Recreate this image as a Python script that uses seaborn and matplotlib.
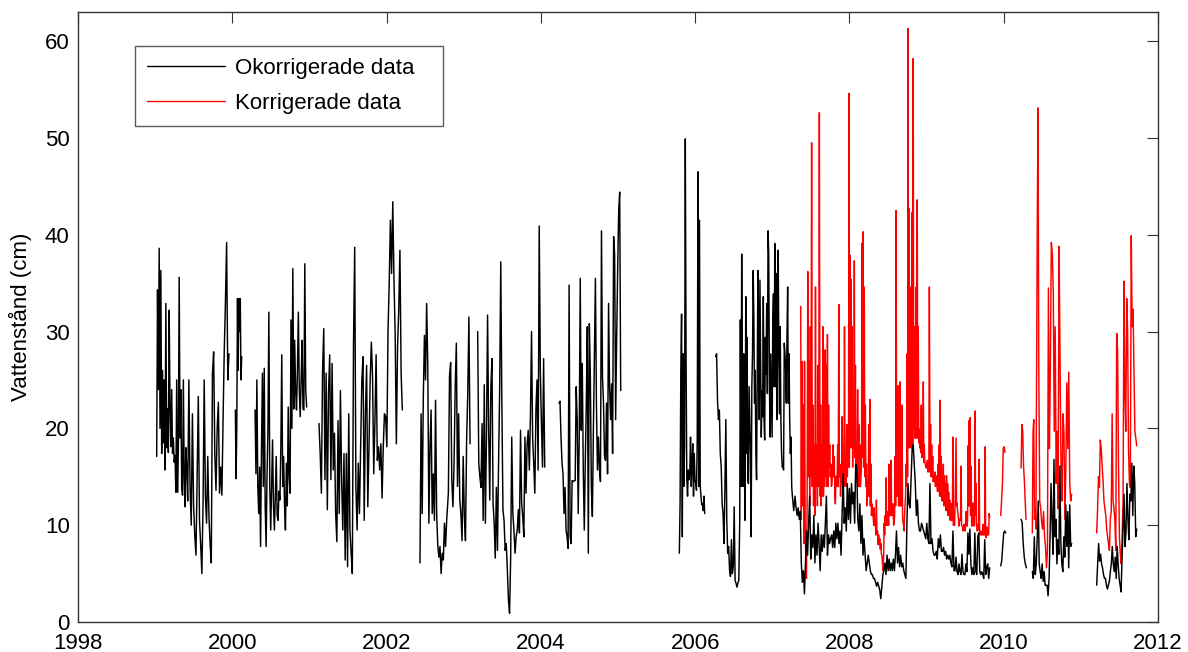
import numpy as np
import pandas as pd
import matplotlib
matplotlib.use("Agg")
import matplotlib.pyplot as plt
import seaborn as sns
from matplotlib.lines import Line2D

# ---------------- data (decimal years, cm) ----------------
# Okorrigerade data (uncorrected) - continuous runs
okorr_1999a = [17.1, 34.3, 24.0, 38.6, 20.0, 36.3, 17.4, 26.0, 18.5, 25.0, 15.7, 32.9, 18.0, 22.0,
               17.5, 32.2, 22.0, 18.1, 24.0, 17.4, 19.0, 16.5, 17.2, 13.4, 25.0, 13.4, 18.0, 35.6,
               19.0, 24.0, 14.0, 13.1, 25.0, 15.0, 11.9, 18.0, 16.0]
okorr_1999b = [12.5, 25.0, 14.0, 10.0, 21.5, 12.0, 9.0, 6.9, 15.0, 23.3, 10.5, 8.0, 5.0, 12.0, 25.0,
               13.0, 10.2, 17.1, 11.0, 8.0, 6.1, 25.7, 27.9, 17.4, 13.6, 20.0, 22.7, 13.3, 16.0,
               13.1, 21.0, 28.0, 33.0, 39.2, 25.0, 27.7]
okorr_2000a = [21.9, 14.8, 20.0, 33.4, 26.0, 33.4, 30.0, 33.4, 25.0, 27.4]
okorr_2000b = [21.9, 15.3, 25.0, 14.0, 11.2, 16.0, 7.8, 18.0, 25.7, 14.0, 26.2, 12.0, 7.8, 15.0, 20.0,
               32.0, 14.0, 9.5, 14.0, 18.8, 12.0, 9.5, 13.0, 17.1, 11.0, 10.5, 13.5, 12.6, 18.0, 27.6,
               14.0, 17.1, 12.0, 9.5, 16.4, 12.0, 22.2, 15.0, 13.3, 31.2, 20.0, 36.5, 22.0, 29.1,
               24.0, 21.9, 26.0, 32.0, 24.0, 21.2, 25.0, 29.1, 22.0, 21.9, 37.0, 24.0, 22.2]
okorr_2001 = [20.5, 17.4, 13.3, 26.0, 30.3, 14.7, 25.7, 11.6, 23.6, 27.6, 14.7, 26.7, 15.7, 19.5, 11.2,
              8.3, 20.8, 11.2, 23.9, 14.7, 9.5, 17.4, 6.4, 17.4, 5.7, 21.5, 9.5, 7.1, 5.0, 28.8, 38.7,
              14.0, 9.5, 16.4, 11.2, 18.1, 25.0, 27.4, 10.5, 21.5, 26.5, 11.9, 18.1, 25.0, 28.9, 25.3,
              15.3, 20.8, 27.6, 16.7, 18.1, 15.7, 18.4, 12.8, 18.1, 21.5, 21.2, 18.1, 30.1, 35.0,
              41.5, 36.0, 43.4, 35.3, 29.8, 18.4, 28.4, 32.2, 38.4, 25.7, 21.9]
okorr_2002a = [6.1, 21.5, 11.2, 23.2, 29.6, 25.0, 32.9, 26.7, 10.2, 18.1, 21.9, 11.2, 15.3, 10.5, 22.9,
               11.2, 7.9, 6.7, 7.8, 5.0, 7.1, 6.4, 10.2, 7.8, 10.5]
okorr_2002b = [13.3, 25.4, 26.8, 14.7, 11.9, 16.4, 24.3, 28.8, 14.0, 21.5, 12.6, 11.2, 8.4, 17.1, 10.9,
               8.4, 18.8, 23.6, 31.5, 18.4]
okorr_2003 = [30.0, 16.4, 15.0, 13.9, 20.5, 10.5, 24.5, 10.2, 19.1, 31.7, 19.8, 12.6, 24.3, 27.2, 12.3,
              10.2, 6.6, 13.9, 7.4, 16.4, 23.9, 37.2, 22.6, 11.6, 10.5, 7.4, 8.1, 5.4, 2.3, 0.9, 6.4,
              19.1, 11.2, 9.5, 7.1, 8.8, 9.5, 11.6, 9.2, 19.8, 12.3, 10.9, 8.8, 19.1, 13.3, 18.4, 19.8,
              15.7, 21.2, 30.0, 19.1, 16.4, 13.3, 21.9, 25.0, 15.7, 40.9, 26.0, 20.5, 16.0, 27.2, 16.0]
okorr_2004 = [22.6, 22.8, 19.1, 16.4, 15.3, 11.2, 13.9, 9.5, 8.8, 7.6, 34.8, 8.8, 8.1, 14.6, 14.5, 14.6,
              14.6, 24.3, 20.9, 11.2, 19.1, 35.5, 19.8, 26.7, 15.7, 9.5, 16.7, 22.6, 30.5, 7.1, 30.8,
              25.3, 13.9, 10.9, 19.8, 27.4, 35.5, 22.6, 15.7, 19.1, 15.7, 14.5, 40.4, 25.3, 22.6, 17.1,
              16.7, 22.6, 15.3, 32.9, 24.3, 20.9, 24.6, 17.4, 39.8, 38.0, 20.9, 29.4, 36.3, 42.5, 44.4,
              23.9]
okorr_2005 = [7.1, 12.2, 26.0, 31.8, 8.8, 27.7, 14.0, 18.1, 49.9, 27.7, 14.7, 13.0, 15.7, 14.7, 15.3,
              19.1, 14.0, 16.4, 18.4, 13.0, 17.4, 14.7, 14.3, 13.6, 19.1, 46.5, 14.0, 41.5, 14.0, 13.0,
              12.1, 12.2, 11.5, 13.0, 11.2]
okorr_2006a = [27.4, 27.7, 22.9, 20.9, 21.9, 17.4, 16.0, 12.2, 11.2, 8.1, 14.0, 20.9, 10.5, 7.1, 7.8,
               5.4, 4.7, 8.5, 5.0, 5.7, 11.9, 4.3, 4.0, 3.6, 4.0, 4.3, 10.5]
okorr_2006b = [31.2, 14.0, 38.0, 20.9, 14.0, 27.7, 15.7, 10.5, 33.6, 17.4, 29.4, 14.7, 14.3, 24.3, 20.9,
               17.4, 8.8, 24.3, 27.7, 36.3, 31.2, 22.6, 26.0, 17.4, 14.7, 26.0, 36.3, 31.2, 20.9, 35.3,
               27.7, 19.1, 23.9, 21.2, 33.6, 20.9, 18.8, 29.4, 25.6, 32.9, 23.6, 40.4, 38.0, 25.0, 19.1,
               27.7, 23.2, 19.1, 31.2, 33.9, 24.3, 39.1, 24.3, 36.0, 20.9, 27.7, 38.4, 27.7, 21.5, 30.5,
               20.9, 17.4, 16.0, 16.0, 15.7, 28.8, 27.7, 26.3, 22.6, 29.4, 34.6, 22.6, 27.7, 20.9, 17.4,
               19.1, 14.0, 13.0, 12.2, 11.5]
okorr_2007 = [13.0, 11.8, 11.0, 11.8, 10.6, 11.4, 6.1, 4.1, 5.3, 2.9, 6.1, 9.4, 6.9, 10.2, 13.0, 6.5,
              9.0, 7.7, 11.0, 6.1, 9.0, 6.9, 10.2, 8.1, 5.3, 9.0, 7.3, 9.0, 7.7, 10.2, 13.0, 6.9, 9.0,
              8.1, 8.6, 9.0, 7.7, 9.4, 7.7, 10.2, 8.6, 10.2, 8.1, 9.4, 6.9, 11.0, 15.3, 10.2, 11.8, 9.4,
              14.3, 10.6, 13.8, 10.2, 14.3, 12.2, 13.4, 10.2, 16.3, 15.9, 10.6, 9.4, 12.2, 8.1, 11.0,
              6.9, 8.6, 6.9, 5.3, 6.1, 6.9, 6.1, 5.3, 4.9, 4.9, 4.5, 4.5, 4.1, 3.7, 4.1, 3.7, 3.3, 2.4,
              3.7, 4.9, 5.3, 6.1, 4.9, 6.9, 5.3, 6.5, 5.3, 6.1, 5.3, 6.5, 5.3, 6.9, 9.4, 6.1, 7.7, 5.7,
              6.9, 5.7, 6.1, 5.3, 4.9, 4.5, 10.2, 14.3, 12.2, 11.8, 14.7, 17.9, 18.3, 16.3, 14.3, 11.0,
              12.6, 10.2, 9.4, 9.4, 10.2, 9.8, 9.4, 9.0, 8.6, 10.2, 8.6, 8.1, 14.3, 8.1, 8.6, 7.3, 6.9,
              6.9, 7.3, 6.5, 8.6, 7.7, 9.0, 7.3, 7.3, 7.7, 6.9, 7.3, 6.5, 6.9, 6.5, 6.9, 6.1, 5.7, 9.4,
              5.3, 5.3]
okorr_2009 = [6.7, 5.2, 4.9, 6.0, 5.2, 4.9, 7.0, 5.2, 4.9, 4.9, 6.0, 5.2, 9.2, 7.0, 9.6, 6.0, 4.9, 5.6,
              4.9, 9.2, 5.2, 4.9, 8.8, 9.2, 5.2, 4.9, 5.2, 4.9, 4.5, 8.5, 4.9, 5.6, 6.0, 4.5, 5.6]
okorr_2010a = [5.8, 6.3, 7.8, 9.2, 9.4, 9.2]
okorr_2010b = [10.6, 10.3, 8.1, 6.7, 6.0, 5.6]
okorr_2010c = [5.2, 4.5, 8.8, 4.9, 6.0, 8.8, 12.5, 6.0, 5.2, 4.5, 6.0, 4.2, 5.2, 3.8, 3.8, 3.8, 2.7, 4.5,
               8.8, 14.3, 10.6, 7.0, 16.8, 8.8, 10.6, 6.0, 8.5, 7.0, 16.1, 8.1, 6.0, 5.2, 8.8, 6.7, 12.1,
               7.8, 11.4, 5.6, 12.1, 7.8, 8.1]
okorr_2011 = [3.8, 6.0, 8.1, 6.3, 7.0, 6.0, 5.6, 4.9, 4.5, 4.5, 3.8, 3.4, 3.8, 4.2, 5.2, 6.0, 7.8, 6.0,
              5.2, 6.7, 4.5, 7.8, 6.0, 4.5, 3.8, 3.1, 6.7, 9.6, 13.2, 7.8, 9.2, 14.3, 10.6, 8.5, 13.2,
              12.5, 16.4, 11.0, 16.1, 14.3, 8.8, 9.6]

# Korrigerade data (corrected)
korr_2007a = [32.6, 10.6, 26.9, 12.0, 22.4, 8.1, 26.9, 10.2, 6.0, 4.5, 12.0, 36.2, 15.0, 26.9, 12.0,
              30.5, 15.0, 49.5, 14.0, 22.4, 12.0, 18.3, 11.0, 34.6, 14.0, 18.3, 12.0, 26.5, 14.0, 52.6]
korr_2007b = [13.0, 22.4, 12.0, 18.3, 13.0, 30.5, 13.0, 20.4, 14.0, 28.1, 15.0, 26.5, 14.0, 29.7, 14.0,
              22.4, 16.0, 18.3, 15.0, 16.3, 14.0, 14.3, 16.0, 18.3, 15.0, 17.1, 13.0, 12.2, 15.0, 15.1,
              14.0, 18.3, 14.0, 32.8, 15.0, 16.3, 13.0, 14.3, 15.0, 21.2, 14.0, 16.3, 14.0, 30.5, 15.0,
              16.3, 14.0, 20.4, 15.0, 18.3, 16.0, 54.6]
korr_2008a = [16.0, 37.9, 18.0, 35.4, 18.0, 30.5, 16.0, 22.4, 18.0, 37.3, 17.0, 26.5, 15.0, 18.3, 15.0,
              24.0, 14.0, 20.4, 14.0, 18.3, 14.0, 15.1, 16.0, 39.1, 17.0, 40.3, 16.0, 34.6, 15.0, 22.4,
              14.0, 16.3, 12.0, 14.3, 13.0, 20.4, 13.0, 23.0, 12.0, 16.3, 11.0, 12.2, 11.0, 11.0, 10.0,
              11.8, 10.0, 10.2, 9.0, 12.6, 9.0, 9.4, 8.0, 9.0, 8.0, 8.6, 7.5, 8.1, 7.0, 6.9, 6.0, 5.3]
korr_2008b = [7.0, 10.2, 9.0, 11.0, 10.0, 14.9, 10.0, 10.2, 10.0, 11.4, 10.0, 16.3, 11.0, 11.0, 11.0,
              16.7, 11.0, 12.2, 11.0, 12.2, 10.0, 10.2, 11.0, 17.1, 12.0, 42.5, 13.0, 18.3, 13.0, 24.4,
              12.0, 13.4, 12.0, 24.8, 12.0, 13.0, 12.0, 22.4, 11.0, 10.2, 10.0, 9.4, 11.0, 12.2, 13.0,
              16.3, 14.0, 27.7, 15.0, 61.3]
korr_2008c = [18.0, 42.7, 18.0, 34.6, 18.0, 22.4, 18.0, 42.3, 18.0, 58.2, 20.0, 30.5, 19.0, 22.4, 19.0,
              34.6, 19.0, 43.6, 19.0, 30.5, 18.5, 19.9, 18.0, 18.3, 17.5, 22.4, 17.0, 17.1, 17.0, 24.8,
              16.5, 18.3, 16.5, 16.3, 16.0, 15.9, 16.0, 16.7, 15.5, 16.3, 15.5, 34.6]
korr_2009a = [15.5, 20.4, 15.0, 18.3, 15.0, 17.1, 14.5, 15.1, 14.5, 15.5, 14.0, 14.3, 14.0, 15.1, 13.5,
              16.3, 13.5, 18.3, 13.0, 22.9, 13.0, 17.1, 12.5, 14.3, 12.5, 16.3, 12.0, 15.1, 12.0, 14.3,
              11.5, 15.1, 11.5, 14.3, 11.0, 13.4, 11.0, 12.6, 10.5, 12.2, 10.5, 12.2, 10.5, 19.1, 10.0,
              11.4, 10.0, 11.8]
korr_2009b = [19.0, 12.0, 12.3, 11.5, 11.1, 10.5, 9.9, 10.5, 10.5, 11.0, 16.1, 10.0, 9.9, 9.8, 9.4, 9.5,
              10.1, 9.5, 9.4, 10.0, 11.4, 10.0, 9.9, 10.5, 18.2, 12.0, 20.8, 12.0, 21.1, 11.0, 16.1,
              10.0, 9.9, 10.5, 12.3, 10.0, 9.9, 10.0, 21.8, 11.0, 14.3, 10.0, 9.4, 9.5, 10.1, 9.5, 16.8,
              9.5, 9.0, 9.0, 9.4, 9.0, 9.0, 9.0, 10.1, 9.0, 9.0, 9.0, 18.1, 9.0, 8.7, 9.0, 9.8, 9.0,
              9.0, 9.0, 11.2, 10.8]
korr_2010a = [11.0, 12.5, 14.3, 18.0, 18.1, 17.5]
korr_2010b = [15.9, 20.4, 19.7, 16.1, 14.6, 12.5, 10.6]
korr_2010c = [9.2, 19.7, 20.9, 10.6, 11.7, 9.6, 26.2, 42.1, 53.1]
korr_2010d = [26.9, 12.5, 11.7, 10.3, 9.6, 11.4, 8.8, 7.8, 5.6, 7.4, 34.5, 17.9, 26.2, 39.2, 38.1, 34.1,
              19.7, 30.5, 14.3, 19.7, 11.7, 38.8, 26.9, 16.1, 12.5, 21.5, 19.7, 10.6, 16.1, 24.7, 17.9,
              25.8, 14.3, 12.5, 13.2]
korr_2011 = [9.2, 11.7, 15.0, 13.9, 18.8, 17.9, 16.1, 14.6, 12.5, 11.7, 11.0, 9.6, 8.8, 8.1, 7.4, 10.6,
             11.4, 21.5, 12.5, 11.7, 10.6, 7.4, 29.8, 28.0, 16.1, 8.8, 7.0, 6.0, 8.8, 12.5, 35.2, 23.3,
             19.7, 33.4, 30.1, 17.9, 14.3, 13.9, 39.9, 30.5, 32.3, 25.8, 19.7, 19.0, 18.2]

# runs: each run = list of (start year, end year, values); runs are separated by data gaps
okorr_runs = [
    [(1999.020, 1999.409, okorr_1999a), (1999.422, 1999.957, okorr_1999b)],
    [(2000.040, 2000.122, okorr_2000a)],
    [(2000.295, 2000.964, okorr_2000b)],
    [(2001.124, 2002.204, okorr_2001)],
    [(2002.433, 2002.779, okorr_2002a), (2002.801, 2003.082, okorr_2002b)],
    [(2003.181, 2004.050, okorr_2003)],
    [(2004.235, 2005.035, okorr_2004)],
    [(2005.795, 2006.124, okorr_2005)],
    [(2006.266, 2006.578, okorr_2006a), (2006.586, 2007.278, okorr_2006b),
     (2007.295, 2009.369, okorr_2007), (2009.382, 2009.818, okorr_2009)],
    [(2009.961, 2010.026, okorr_2010a)],
    [(2010.225, 2010.294, okorr_2010b)],
    [(2010.371, 2010.881, okorr_2010c)],
    [(2011.205, 2011.724, okorr_2011)],
]
korr_runs = [
    [(2007.368, 2007.610, korr_2007a), (2007.619, 2007.995, korr_2007b),
     (2007.999, 2008.436, korr_2008a), (2008.444, 2008.760, korr_2008b),
     (2008.768, 2009.036, korr_2008c), (2009.045, 2009.369, korr_2009a),
     (2009.382, 2009.818, korr_2009b)],
    [(2009.961, 2010.017, korr_2010a)],
    [(2010.225, 2010.289, korr_2010b)],
    [(2010.371, 2010.445, korr_2010c), (2010.454, 2010.881, korr_2010d)],
    [(2011.205, 2011.724, korr_2011)],
]

labels = ["Okorrigerade data", "Korrigerade data"]
x_ticks = [1998, 2000, 2002, 2004, 2006, 2008, 2010, 2012]
y_ticks = [0, 10, 20, 30, 40, 50, 60]


def to_frame(runs):
    rows = []
    for uid, run in enumerate(runs):
        for t0, t1, vals in run:
            for t, v in zip(np.linspace(t0, t1, len(vals)), vals):
                rows.append((uid, t, v))
    return pd.DataFrame(rows, columns=["unit", "year", "value"])


df_ok = to_frame(okorr_runs)
df_k = to_frame(korr_runs)

# ---------------- plot ----------------
sns.set_style("white")
plt.rcParams["font.family"] = ["Liberation Sans", "DejaVu Sans"]
plt.rcParams["font.size"] = 16
for key in ["text.color", "axes.labelcolor", "xtick.color", "ytick.color"]:
    plt.rcParams[key] = "#000000"

fig = plt.figure(figsize=(11.88, 6.52), dpi=100)
ax = fig.add_axes([78 / 1188, 30 / 652, 1080 / 1188, 610 / 652])

sns.lineplot(data=df_k, x="year", y="value", units="unit", estimator=None, sort=False,
             color="#ff0000", linewidth=1.05, ax=ax, legend=False, zorder=2)
sns.lineplot(data=df_ok, x="year", y="value", units="unit", estimator=None, sort=False,
             color="#000000", linewidth=1.05, ax=ax, legend=False, zorder=3)

ax.set_xlim(1998, 2012)
ax.set_ylim(0, 63)
ax.set_xticks(x_ticks)
ax.set_xticklabels([str(t) for t in x_ticks])
ax.set_yticks(y_ticks)
ax.set_xlabel("")
ax.set_ylabel("Vattenstånd (cm)", fontsize=16)
ax.yaxis.set_label_coords(-0.043, 0.5)

for s in ax.spines.values():
    s.set_color("#333333")
    s.set_linewidth(1.0)
ax.tick_params(direction="in", length=8, width=0.8, color="#333333",
               top=True, right=True, labelsize=16, pad=6, labelcolor="#000000")
ax.tick_params(axis="x", pad=8)

handles = [Line2D([], [], color="#000000", lw=1.0), Line2D([], [], color="#ff0000", lw=1.0)]
leg = ax.legend(handles, labels, loc="upper left",
                bbox_to_anchor=(0.0528, 0.8115, 0.2852, 0.1328), mode="expand",
                borderaxespad=0, frameon=True, fancybox=False, fontsize=16,
                handlelength=3.5, handletextpad=0.45, borderpad=0.55, labelspacing=0.62)
leg.get_frame().set_edgecolor("#333333")
leg.get_frame().set_linewidth(1.0)

fig.savefig("out.png", dpi=100)
